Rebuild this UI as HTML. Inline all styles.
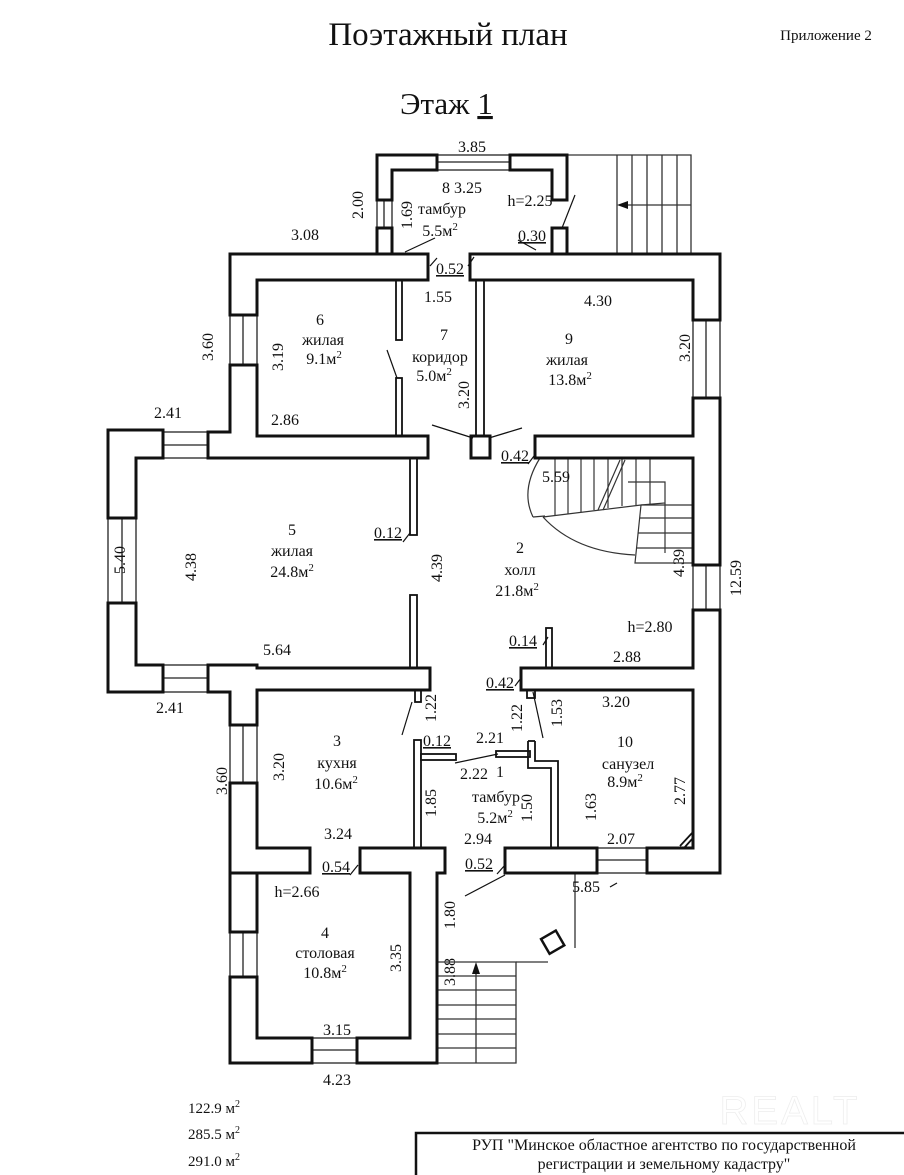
<!DOCTYPE html>
<html><head><meta charset="utf-8"><style>
html,body{margin:0;padding:0;background:#fff;}
svg{display:block;}
text{font-family:"Liberation Serif",serif;fill:#111;}
</style></head><body>
<svg width="904" height="1175" viewBox="0 0 904 1175" xmlns="http://www.w3.org/2000/svg">
<rect width="904" height="1175" fill="#fff"/>
<text x="448" y="45" font-size="33" text-anchor="middle">Поэтажный план</text>
<text x="826" y="40" font-size="15" text-anchor="middle">Приложение 2</text>
<text x="400" y="114" font-size="31">Этаж <tspan text-decoration="underline">1</tspan></text>

<g stroke="#333" stroke-width="1.3" fill="none">
<polyline points="567,155 691,155 691,254"/>
<line x1="617" y1="155" x2="617" y2="254"/><line x1="632" y1="155" x2="632" y2="254"/>
<line x1="647" y1="155" x2="647" y2="254"/><line x1="662" y1="155" x2="662" y2="254"/>
<line x1="677" y1="155" x2="677" y2="254"/>
<line x1="624" y1="205" x2="691" y2="205"/>
</g>
<polygon points="617,205 628,201 628,209" fill="#111"/>
<g stroke="#333" stroke-width="1.3" fill="none">
<polyline points="437,962 516,962 516,1063 437,1063"/>
<line x1="437" y1="976" x2="516" y2="976"/><line x1="437" y1="990" x2="516" y2="990"/>
<line x1="437" y1="1005" x2="516" y2="1005"/><line x1="437" y1="1019" x2="516" y2="1019"/>
<line x1="437" y1="1034" x2="516" y2="1034"/><line x1="437" y1="1048" x2="516" y2="1048"/>
<line x1="476" y1="972" x2="476" y2="1063"/>
<line x1="437" y1="873" x2="437" y2="1063"/>
<line x1="516" y1="962" x2="548" y2="962"/>
<line x1="575" y1="873" x2="575" y2="948"/>
</g>
<polygon points="476,962 472,974 480,974" fill="#111"/>
<rect x="544" y="934" width="17" height="17" transform="rotate(-30 552 942)" fill="none" stroke="#111" stroke-width="2.5"/>

<g stroke="#333" stroke-width="1.2" fill="none">
<polyline points="537,458 693,458"/>
<path d="M540,458 Q520,490 533,517"/>
<line x1="533" y1="517" x2="545" y2="516"/>
<polyline points="543,517 641,505 665,503 665,482 628,482"/>
<polyline points="641,505 635,563 693,563"/>
<path d="M543,517 Q575,552 635,555"/>
<line x1="555" y1="458" x2="555" y2="515"/><line x1="568" y1="458" x2="568" y2="514"/>
<line x1="581" y1="458" x2="581" y2="512"/><line x1="594" y1="458" x2="594" y2="510"/>
<line x1="608" y1="458" x2="608" y2="508"/><line x1="622" y1="458" x2="622" y2="506"/>
<line x1="636" y1="458" x2="636" y2="505"/><line x1="650" y1="458" x2="650" y2="504"/>
<line x1="641" y1="505" x2="693" y2="505"/><line x1="640" y1="518" x2="693" y2="518"/>
<line x1="638" y1="533" x2="693" y2="533"/><line x1="636" y1="548" x2="693" y2="548"/>
<line x1="665" y1="503" x2="665" y2="553"/>
<line x1="620" y1="460" x2="598" y2="510"/><line x1="625" y1="460" x2="603" y2="510"/>
</g>

<g fill="#fff" stroke="#111" stroke-width="1.8">
<rect x="396" y="280" width="6" height="60"/><rect x="396" y="378" width="6" height="58"/>
<rect x="476" y="280" width="8" height="156"/>
<rect x="410" y="458" width="7" height="77"/><rect x="410" y="595" width="7" height="73"/>
<rect x="415" y="690" width="6" height="12"/>
<rect x="414" y="740" width="7" height="108"/><rect x="421" y="754" width="35" height="6"/>
<rect x="546" y="628" width="6" height="40"/><rect x="527" y="690" width="8" height="8"/>
<rect x="496" y="751" width="34" height="6"/>
<polyline points="528,741 528,768 551,768 551,848" fill="none"/>
<polyline points="535,741 535,761 558,761 558,848" fill="none"/>
<line x1="528" y1="741" x2="535" y2="741"/>
<polyline points="693,690 693,848" fill="none"/>
<line x1="680" y1="846" x2="693" y2="832"/><line x1="684" y1="848" x2="693" y2="838"/>
</g>

<g fill="#fff" stroke="#222" stroke-width="1.3">
<rect x="437" y="155" width="73" height="15"/><line x1="437" y1="162" x2="510" y2="162"/>
<rect x="377" y="200" width="15" height="28"/><line x1="384" y1="200" x2="384" y2="228"/>
<rect x="230" y="315" width="27" height="50"/><line x1="243" y1="315" x2="243" y2="365"/>
<rect x="163" y="432" width="45" height="26"/><line x1="163" y1="445" x2="208" y2="445"/>
<rect x="108" y="518" width="28" height="85"/><line x1="122" y1="518" x2="122" y2="603"/>
<rect x="163" y="665" width="45" height="27"/><line x1="163" y1="678" x2="208" y2="678"/>
<rect x="230" y="725" width="27" height="58"/><line x1="243" y1="725" x2="243" y2="783"/>
<rect x="693" y="320" width="27" height="78"/><line x1="706" y1="320" x2="706" y2="398"/>
<rect x="693" y="565" width="27" height="45"/><line x1="706" y1="565" x2="706" y2="610"/>
<rect x="597" y="848" width="50" height="25"/><line x1="597" y1="860" x2="647" y2="860"/>
<rect x="230" y="932" width="27" height="45"/><line x1="243" y1="932" x2="243" y2="977"/>
<rect x="312" y="1038" width="45" height="25"/><line x1="312" y1="1050" x2="357" y2="1050"/>
</g>

<g fill="#fff" stroke="#111" stroke-width="3">
<rect x="377" y="155" width="60" height="15"/><rect x="377" y="155" width="15" height="45"/>
<rect x="510" y="155" width="57" height="15"/><rect x="552" y="155" width="15" height="45"/>
<rect x="377" y="228" width="15" height="27"/><rect x="552" y="228" width="15" height="27"/>
<rect x="230" y="254" width="198" height="26"/><rect x="230" y="254" width="27" height="61"/>
<rect x="230" y="365" width="27" height="93"/><rect x="208" y="432" width="49" height="26"/>
<rect x="108" y="430" width="55" height="28"/><rect x="108" y="430" width="28" height="88"/>
<rect x="108" y="603" width="28" height="89"/><rect x="108" y="665" width="55" height="27"/>
<rect x="208" y="665" width="49" height="27"/><rect x="230" y="665" width="27" height="60"/>
<rect x="230" y="783" width="27" height="90"/><rect x="230" y="848" width="80" height="25"/>
<rect x="257" y="436" width="171" height="22"/><rect x="257" y="668" width="173" height="22"/>
<rect x="470" y="254" width="250" height="26"/><rect x="693" y="254" width="27" height="66"/>
<rect x="693" y="398" width="27" height="167"/><rect x="693" y="610" width="27" height="263"/>
<rect x="647" y="848" width="73" height="25"/>
<rect x="535" y="436" width="158" height="22"/><rect x="471" y="436" width="19" height="22"/>
<rect x="521" y="668" width="172" height="22"/>
<rect x="360" y="848" width="85" height="25"/><rect x="505" y="848" width="92" height="25"/>
<rect x="230" y="873" width="27" height="59"/><rect x="230" y="977" width="27" height="86"/>
<rect x="230" y="1038" width="82" height="25"/><rect x="357" y="1038" width="80" height="25"/>
<rect x="410" y="873" width="27" height="190"/>
</g>
<g fill="#fff" stroke="none">
<rect x="378.5" y="156.5" width="57" height="12"/><rect x="378.5" y="156.5" width="12" height="42"/>
<rect x="511.5" y="156.5" width="54" height="12"/><rect x="553.5" y="156.5" width="12" height="42"/>
<rect x="231.5" y="255.5" width="195" height="23"/><rect x="231.5" y="255.5" width="24" height="58"/>
<rect x="231.5" y="366.5" width="24" height="90"/><rect x="209.5" y="433.5" width="46" height="23"/>
<rect x="109.5" y="431.5" width="52" height="25"/><rect x="109.5" y="431.5" width="25" height="85"/>
<rect x="109.5" y="604.5" width="25" height="86"/><rect x="109.5" y="666.5" width="52" height="24"/>
<rect x="209.5" y="666.5" width="46" height="24"/><rect x="231.5" y="666.5" width="24" height="57"/>
<rect x="231.5" y="784.5" width="24" height="87"/><rect x="231.5" y="849.5" width="77" height="22"/>
<rect x="255.5" y="437.5" width="171" height="19"/><rect x="255.5" y="669.5" width="173" height="19"/>
<rect x="471.5" y="255.5" width="247" height="23"/><rect x="694.5" y="255.5" width="24" height="63"/>
<rect x="694.5" y="399.5" width="24" height="164"/><rect x="694.5" y="611.5" width="24" height="260"/>
<rect x="648.5" y="849.5" width="70" height="22"/>
<rect x="536.5" y="437.5" width="158" height="19"/><rect x="522.5" y="669.5" width="172" height="19"/>
<rect x="231.5" y="978.5" width="24" height="83"/><rect x="231.5" y="1039.5" width="79" height="22"/>
<rect x="358.5" y="1039.5" width="77" height="22"/><rect x="411.5" y="871.5" width="24" height="190"/>
<rect x="361.5" y="849.5" width="82" height="22"/>
</g>

<g stroke="#111" stroke-width="1.2">
<line x1="575" y1="195" x2="562" y2="228"/><line x1="405" y1="252" x2="435" y2="238"/>
<line x1="387" y1="350" x2="397" y2="378"/><line x1="432" y1="425" x2="473" y2="438"/>
<line x1="489" y1="438" x2="522" y2="428"/><line x1="402" y1="735" x2="412" y2="702"/>
<line x1="533" y1="692" x2="543" y2="738"/><line x1="455" y1="763" x2="498" y2="754"/>
<line x1="465" y1="896" x2="505" y2="875"/><line x1="610" y1="887" x2="617" y2="883"/>
<line x1="430" y1="266" x2="437" y2="258"/><line x1="468" y1="266" x2="474" y2="257"/>
<line x1="528" y1="464" x2="534" y2="456"/><line x1="515" y1="686" x2="521" y2="678"/>
<line x1="403" y1="542" x2="410" y2="533"/><line x1="543" y1="645" x2="548" y2="637"/>
<line x1="350" y1="875" x2="358" y2="865"/><line x1="497" y1="874" x2="505" y2="865"/>
<line x1="518" y1="240" x2="536" y2="250"/>
</g>

<g font-size="16" text-anchor="middle">
<text x="472" y="152">3.85</text>
<text x="305" y="240">3.08</text>
<text x="462" y="193">8 3.25</text><text x="530" y="206">h=2.25</text>
<text x="442" y="214">тамбур</text><text x="440" y="236">5.5м<tspan dy="-6" font-size="11">2</tspan></text>
<text x="532" y="241" text-decoration="underline">0.30</text>
<text x="450" y="274" text-decoration="underline">0.52</text>
<text x="438" y="302">1.55</text><text x="598" y="306">4.30</text>
<text x="320" y="325">6</text><text x="323" y="345">жилая</text><text x="324" y="364">9.1м<tspan dy="-6" font-size="11">2</tspan></text>
<text x="444" y="340">7</text><text x="440" y="362">коридор</text><text x="434" y="381">5.0м<tspan dy="-6" font-size="11">2</tspan></text>
<text x="569" y="344">9</text><text x="567" y="365">жилая</text><text x="570" y="385">13.8м<tspan dy="-6" font-size="11">2</tspan></text>
<text x="168" y="418">2.41</text><text x="285" y="425">2.86</text>
<text x="515" y="461" text-decoration="underline">0.42</text>
<text x="556" y="482">5.59</text>
<text x="388" y="538" text-decoration="underline">0.12</text>
<text x="292" y="535">5</text><text x="292" y="556">жилая</text><text x="292" y="577">24.8м<tspan dy="-6" font-size="11">2</tspan></text>
<text x="520" y="553">2</text><text x="520" y="575">холл</text><text x="517" y="596">21.8м<tspan dy="-6" font-size="11">2</tspan></text>
<text x="650" y="632">h=2.80</text>
<text x="523" y="646" text-decoration="underline">0.14</text>
<text x="277" y="655">5.64</text><text x="627" y="662">2.88</text>
<text x="500" y="688" text-decoration="underline">0.42</text>
<text x="170" y="713">2.41</text><text x="616" y="707">3.20</text>
<text x="437" y="746" text-decoration="underline">0.12</text><text x="490" y="743">2.21</text>
<text x="337" y="746">3</text><text x="337" y="768">кухня</text><text x="336" y="789">10.6м<tspan dy="-6" font-size="11">2</tspan></text>
<text x="625" y="747">10</text><text x="628" y="769">санузел</text><text x="625" y="787">8.9м<tspan dy="-6" font-size="11">2</tspan></text>
<text x="474" y="779">2.22</text><text x="500" y="777">1</text>
<text x="496" y="802">тамбур</text><text x="495" y="823">5.2м<tspan dy="-6" font-size="11">2</tspan></text>
<text x="338" y="839">3.24</text><text x="478" y="844">2.94</text><text x="621" y="844">2.07</text>
<text x="336" y="872" text-decoration="underline">0.54</text>
<text x="479" y="869" text-decoration="underline">0.52</text>
<text x="586" y="892">5.85</text>
<text x="297" y="897">h=2.66</text>
<text x="325" y="938">4</text><text x="325" y="958">столовая</text><text x="325" y="978">10.8м<tspan dy="-6" font-size="11">2</tspan></text>
<text x="337" y="1035">3.15</text><text x="337" y="1085">4.23</text>
</g>
<g font-size="16" text-anchor="middle">
<text transform="translate(363,205) rotate(-90)">2.00</text>
<text transform="translate(412,215) rotate(-90)">1.69</text>
<text transform="translate(213,347) rotate(-90)">3.60</text>
<text transform="translate(283,357) rotate(-90)">3.19</text>
<text transform="translate(469,395) rotate(-90)">3.20</text>
<text transform="translate(690,348) rotate(-90)">3.20</text>
<text transform="translate(125,560) rotate(-90)">5.40</text>
<text transform="translate(196,567) rotate(-90)">4.38</text>
<text transform="translate(442,568) rotate(-90)">4.39</text>
<text transform="translate(684,563) rotate(-90)">4.39</text>
<text transform="translate(741,578) rotate(-90)">12.59</text>
<text transform="translate(436,708) rotate(-90)">1.22</text>
<text transform="translate(522,718) rotate(-90)">1.22</text>
<text transform="translate(562,713) rotate(-90)">1.53</text>
<text transform="translate(685,791) rotate(-90)">2.77</text>
<text transform="translate(227,781) rotate(-90)">3.60</text>
<text transform="translate(284,767) rotate(-90)">3.20</text>
<text transform="translate(436,803) rotate(-90)">1.85</text>
<text transform="translate(532,808) rotate(-90)">1.50</text>
<text transform="translate(596,807) rotate(-90)">1.63</text>
<text transform="translate(455,915) rotate(-90)">1.80</text>
<text transform="translate(401,958) rotate(-90)">3.35</text>
<text transform="translate(455,972) rotate(-90)">3.88</text>
</g>
<g font-size="15">
<text x="188" y="1113">122.9 м<tspan dy="-6" font-size="10">2</tspan></text>
<text x="188" y="1139">285.5 м<tspan dy="-6" font-size="10">2</tspan></text>
<text x="188" y="1166">291.0 м<tspan dy="-6" font-size="10">2</tspan></text>
</g>
<text x="790" y="1124" font-size="40" text-anchor="middle" style="font-family:'Liberation Sans',sans-serif;letter-spacing:3px;fill:none;stroke:#eeeeee;stroke-width:0.8">REALT</text>
<rect x="416" y="1133" width="490" height="44" fill="none" stroke="#111" stroke-width="2.5"/>
<text x="664" y="1150" font-size="16" text-anchor="middle">РУП "Минское областное агентство по государственной</text>
<text x="664" y="1169" font-size="16" text-anchor="middle">регистрации и земельному кадастру"</text>
</svg>
</body></html>
